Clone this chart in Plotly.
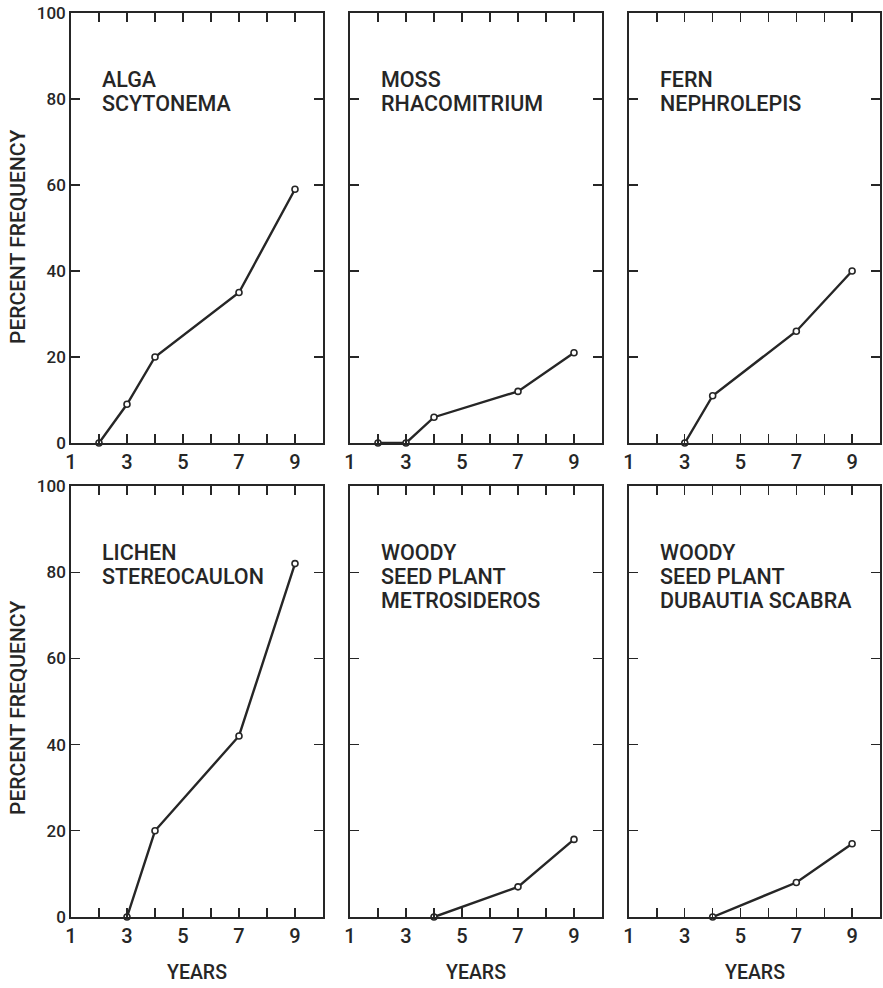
import plotly.graph_objects as go

W, H = 883, 988

# ---- data ----
panel_labels = [
    ["ALGA", "SCYTONEMA"],
    ["MOSS", "RHACOMITRIUM"],
    ["FERN", "NEPHROLEPIS"],
    ["LICHEN", "STEREOCAULON"],
    ["WOODY", "SEED PLANT", "METROSIDEROS"],
    ["WOODY", "SEED PLANT", "DUBAUTIA SCABRA"],
]
alga_years = [2, 3, 4, 7, 9]
alga_freq = [0, 9, 20, 35, 59]
moss_years = [2, 3, 4, 7, 9]
moss_freq = [0, 0, 6, 12, 21]
fern_years = [3, 4, 7, 9]
fern_freq = [0, 11, 26, 40]
lichen_years = [3, 4, 7, 9]
lichen_freq = [0, 20, 42, 82]
metro_years = [4, 7, 9]
metro_freq = [0, 7, 18]
dubautia_years = [4, 7, 9]
dubautia_freq = [0, 8, 17]

series = [
    (alga_years, alga_freq),
    (moss_years, moss_freq),
    (fern_years, fern_freq),
    (lichen_years, lichen_freq),
    (metro_years, metro_freq),
    (dubautia_years, dubautia_freq),
]

x_tickvals = [1, 2, 3, 4, 5, 6, 7, 8, 9]
x_ticktext = ["1", "", "3", "", "5", "", "7", "", "9"]
y_tickvals = [0, 20, 40, 60, 80, 100]
y_ticktext = ["0", "20", "40", "60", "80", "100"]

# ---- layout geometry (pixels) ----
col_px = [(71, 323), (350, 602), (629, 880)]
row_px = [(13, 443), (486, 917)]

def px_x(x):
    return x / W

def px_y(y):
    return 1 - y / H

INK = "#262626"
LFONT = "Roboto, Liberation Sans, Arial, sans-serif"

fig = go.Figure()
layout = dict(
    width=W, height=H,
    margin=dict(l=0, r=0, t=0, b=0, autoexpand=False),
    paper_bgcolor="white", plot_bgcolor="white",
    showlegend=False,
    font=dict(family=LFONT, color=INK),
)
annotations = []

for i, (xs, ys) in enumerate(series):
    r, c = divmod(i, 3)
    idx = "" if i == 0 else str(i + 1)
    xa = "x" + idx
    ya = "y" + idx
    fig.add_trace(go.Scatter(
        x=xs, y=ys, mode="lines+markers",
        xaxis=xa, yaxis=ya,
        line=dict(color=INK, width=2.4),
        marker=dict(symbol="circle", size=6, color="white",
                    line=dict(color=INK, width=1.6)),
        cliponaxis=False,
    ))
    x0, x1 = col_px[c]
    y0, y1 = row_px[r]
    layout["xaxis" + idx] = dict(
        domain=[px_x(x0), px_x(x1)], anchor=ya, range=[1, 10],
        tickmode="array", tickvals=x_tickvals, ticktext=x_ticktext,
        ticks="inside", ticklen=9, tickwidth=1.4, tickcolor=INK,
        showline=True, linecolor=INK, linewidth=1.8, mirror="ticks",
        showgrid=False, zeroline=False, automargin=False,
        tickfont=dict(size=20, family=LFONT, color=INK, weight=500),
        fixedrange=True,
    )
    layout["yaxis" + idx] = dict(
        domain=[px_y(y1), px_y(y0)], anchor=xa, range=[0, 100],
        tickmode="array", tickvals=y_tickvals, ticktext=y_ticktext,
        ticks="inside", ticklen=9, tickwidth=1.4, tickcolor=INK,
        showline=True, linecolor=INK, linewidth=1.8, mirror="ticks",
        showgrid=False, zeroline=False, automargin=False,
        showticklabels=(c == 0),
        tickfont=dict(size=17, family=LFONT, color=INK, weight=500),
        fixedrange=True,
    )
    # panel label: one text block, tight line spacing via a smaller base size
    label_text = "<br>".join(
        "<span style='font-size:21.5px'>%s</span>" % ln for ln in panel_labels[i]
    )
    annotations.append(dict(
        text=label_text, xref="paper", yref="paper",
        x=px_x(x0 + 29), y=px_y(y0 + 52),
        xanchor="left", yanchor="top", align="left", valign="top",
        showarrow=False,
        font=dict(size=18.5, family=LFONT, color=INK, weight=500),
    ))
    if r == 1:
        annotations.append(dict(
            text="YEARS", xref="paper", yref="paper",
            x=px_x((x0 + x1) / 2), y=px_y(972),
            xanchor="center", yanchor="middle", showarrow=False,
            font=dict(size=19.5, family=LFONT, color=INK, weight=500),
        ))
    if c == 0:
        annotations.append(dict(
            text="PERCENT FREQUENCY", xref="paper", yref="paper",
            x=px_x(18), y=px_y(237 if r == 0 else 708),
            xanchor="center", yanchor="middle", showarrow=False,
            textangle=-90,
            font=dict(size=21, family=LFONT, color=INK, weight=500),
        ))

layout["annotations"] = annotations
fig.update_layout(**layout)
fig.write_html(
    "out.html",
    config={"displayModeBar": False, "staticPlot": True},
    post_script="document.body.style.margin='0';document.body.style.padding='0';document.body.style.overflow='hidden';",
)
